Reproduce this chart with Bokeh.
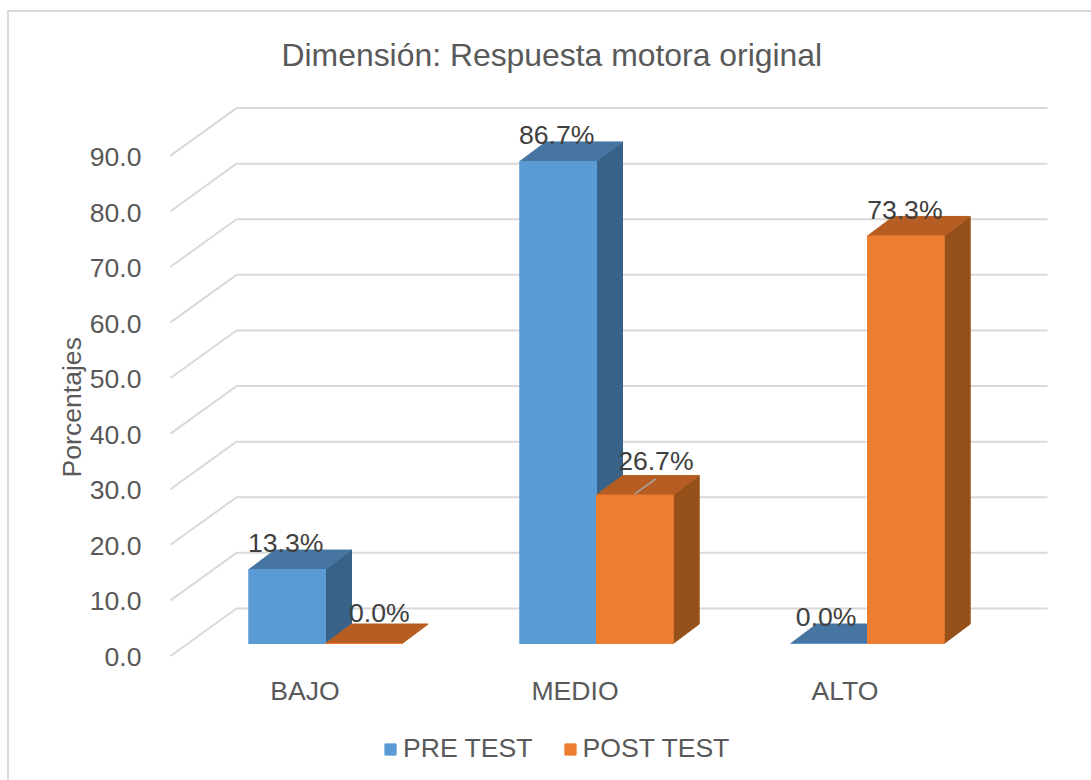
from bokeh.plotting import figure
from bokeh.models import (Range1d, LinearAxis, FixedTicker, NumeralTickFormatter, Title, Legend, LegendItem, ColumnDataSource)
from bokeh.core.properties import value
from bokeh.embed import file_html
from bokeh.resources import INLINE

# ---- data
categories = ["BAJO", "MEDIO", "ALTO"]
pre_test = [13.3, 86.7, 0.0]
post_test = [0.0, 26.7, 73.3]
y_ticks = [0, 10, 20, 30, 40, 50, 60, 70, 80, 90]
series_names = ["PRE TEST", "POST TEST"]
title_text = "Dimensión: Respuesta motora original"
y_label = "Porcentajes"

# ---- layout (all in page pixels)
PAGE_L, PAGE_T = 9, 12
F_L, F_R, F_T, F_B = 165, 1060, 90, 775
CAT_PX = 271.0
UNIT_PX = 5.56
X0_PX, Y0_PX = 325.0, 643.0
FONT = "Liberation Sans"
TXT = "#595959"
FS = "26.6px"


def xd(px):
    return (px - X0_PX) / CAT_PX


def yd(px):
    return (Y0_PX - px) / UNIT_PX


BAR_W = 76.7 / CAT_PX
DX = 26.0 / CAT_PX
DY = 19.5 / UNIT_PX

p = figure(frame_width=F_R - F_L, frame_height=F_B - F_T, output_backend="svg", toolbar_location=None,
           x_range=Range1d(xd(F_L), xd(F_R)), y_range=Range1d(yd(F_B), yd(F_T)),
           x_axis_type=None, y_axis_type=None,
           min_border_left=F_L - PAGE_L, min_border_right=1091 - F_R,
           min_border_top=F_T - PAGE_T, min_border_bottom=780 - F_B,
           outline_line_color=None, background_fill_color="white", border_fill_color="white")
p.grid.visible = False
p.styles = {"border-left": "2px solid #d9d9d9", "border-top": "2px solid #d9d9d9",
            "margin-left": "7px", "margin-top": "10px"}

# shifted ranges for the axis texts (3-D floor sits in front of the bars)
p.extra_y_ranges = {"ax": Range1d((656.5 - F_B) / 5.555, (656.5 - F_T) / 5.555)}
p.extra_x_ranges = {"ax": Range1d((F_L - 304.5) / 270.0, (F_R - 304.5) / 270.0)}

yax = LinearAxis(y_range_name="ax", ticker=FixedTicker(ticks=y_ticks),
                 formatter=NumeralTickFormatter(format="0.0"),
                 axis_line_color=None, major_tick_line_color=None, minor_tick_line_color=None,
                 major_label_text_font=FONT, major_label_text_font_size=FS,
                 major_label_text_color=TXT, major_label_standoff=18)
p.add_layout(yax, "left")

# category labels, on the shifted x range
p.text(x=list(range(len(categories))), y=[yd(690)] * len(categories), text=categories, x_range_name="ax",
       text_font=value(FONT), text_font_size=FS, text_color=TXT, text_align="center", text_baseline="middle")

# ---- walls: gridlines with a diagonal floor part
grid_xs, grid_ys = [], []
for t in y_ticks:
    y_front = t - 2.25
    y_back = t + 6.3
    grid_xs.append([xd(170), xd(236), xd(1047)])
    grid_ys.append([y_front, y_back, y_back])
p.multi_line(grid_xs, grid_ys, line_color="#d9d9d9", line_width=2)

# ---- bars
COLORS = [("#5B9BD5", "#386288", "#4575A0"), ("#ED7D31", "#96511B", "#B55D22")]
fronts = []
for s, vals in enumerate([pre_test, post_test]):
    front, side, top = COLORS[s]
    for i, v in enumerate(vals):
        l = i + (s - 1) * BAR_W
        r = l + BAR_W
        if v > 0:
            p.patch([r, r + DX, r + DX, r], [0, DY, v + DY, v], fill_color=side, line_color=side, line_width=1)
        p.patch([l, r, r + DX, l + DX], [v, v, v + DY, v + DY], fill_color=top, line_color=top, line_width=1)
    src = ColumnDataSource(dict(x=[i + (s - 0.5) * BAR_W for i in range(3)], top=vals))
    fronts.append(p.vbar(x="x", top="top", bottom=0, width=BAR_W, source=src,
                         fill_color=front, line_color=front, line_width=1))

# leader line of the 26.7 label
p.line([1 + BAR_W / 2, 1 + BAR_W / 2 + 21 / CAT_PX], [post_test[1] + 0.2, post_test[1] + 0.2 + 15 / UNIT_PX],
       line_color="#a6a6a6", line_width=1.5)

# ---- data labels
label_dx = [[-1.5, 15.5], [-1.5, 21], [-3, -1]]     # px offset from bar centre
label_dy = [27, 31, 26, 34, 27, 26]                 # px above value
lx, ly, lt = [], [], []
for s, vals in enumerate([pre_test, post_test]):
    for i, v in enumerate(vals):
        lx.append(i + (s - 0.5) * BAR_W + label_dx[i][s] / CAT_PX)
        ly.append(v + label_dy[i * 2 + s] / UNIT_PX)
        lt.append(f"{v:.1f}%")
p.text(lx, ly, text=lt, text_font=value(FONT), text_font_size=FS, text_color="#404040",
       text_align="center", text_baseline="middle")

# ---- titles
p.add_layout(Title(text=title_text, text_font=FONT, text_font_size="31.9px", text_color=TXT,
                   text_font_style="normal", align="left", offset=116, standoff=35), "above")
p.add_layout(Title(text=y_label, text_font=FONT, text_font_size=FS, text_color=TXT,
                   text_font_style="normal", align="left", offset=F_B - 477, standoff=0), "left")

# ---- legend (inside the tall frame, under the category labels)
leg = Legend(items=[LegendItem(label=n, renderers=[r]) for n, r in zip(series_names, fronts)],
             orientation="horizontal", location=(218, 11), border_line_color=None, background_fill_alpha=0,
             glyph_width=14, glyph_height=14, label_text_font=FONT, label_text_font_size=FS,
             label_text_color=TXT, label_standoff=6, spacing=30, margin=0, padding=0, label_height=26)
p.add_layout(leg)

open("out.html", "w").write(file_html(p, INLINE))
